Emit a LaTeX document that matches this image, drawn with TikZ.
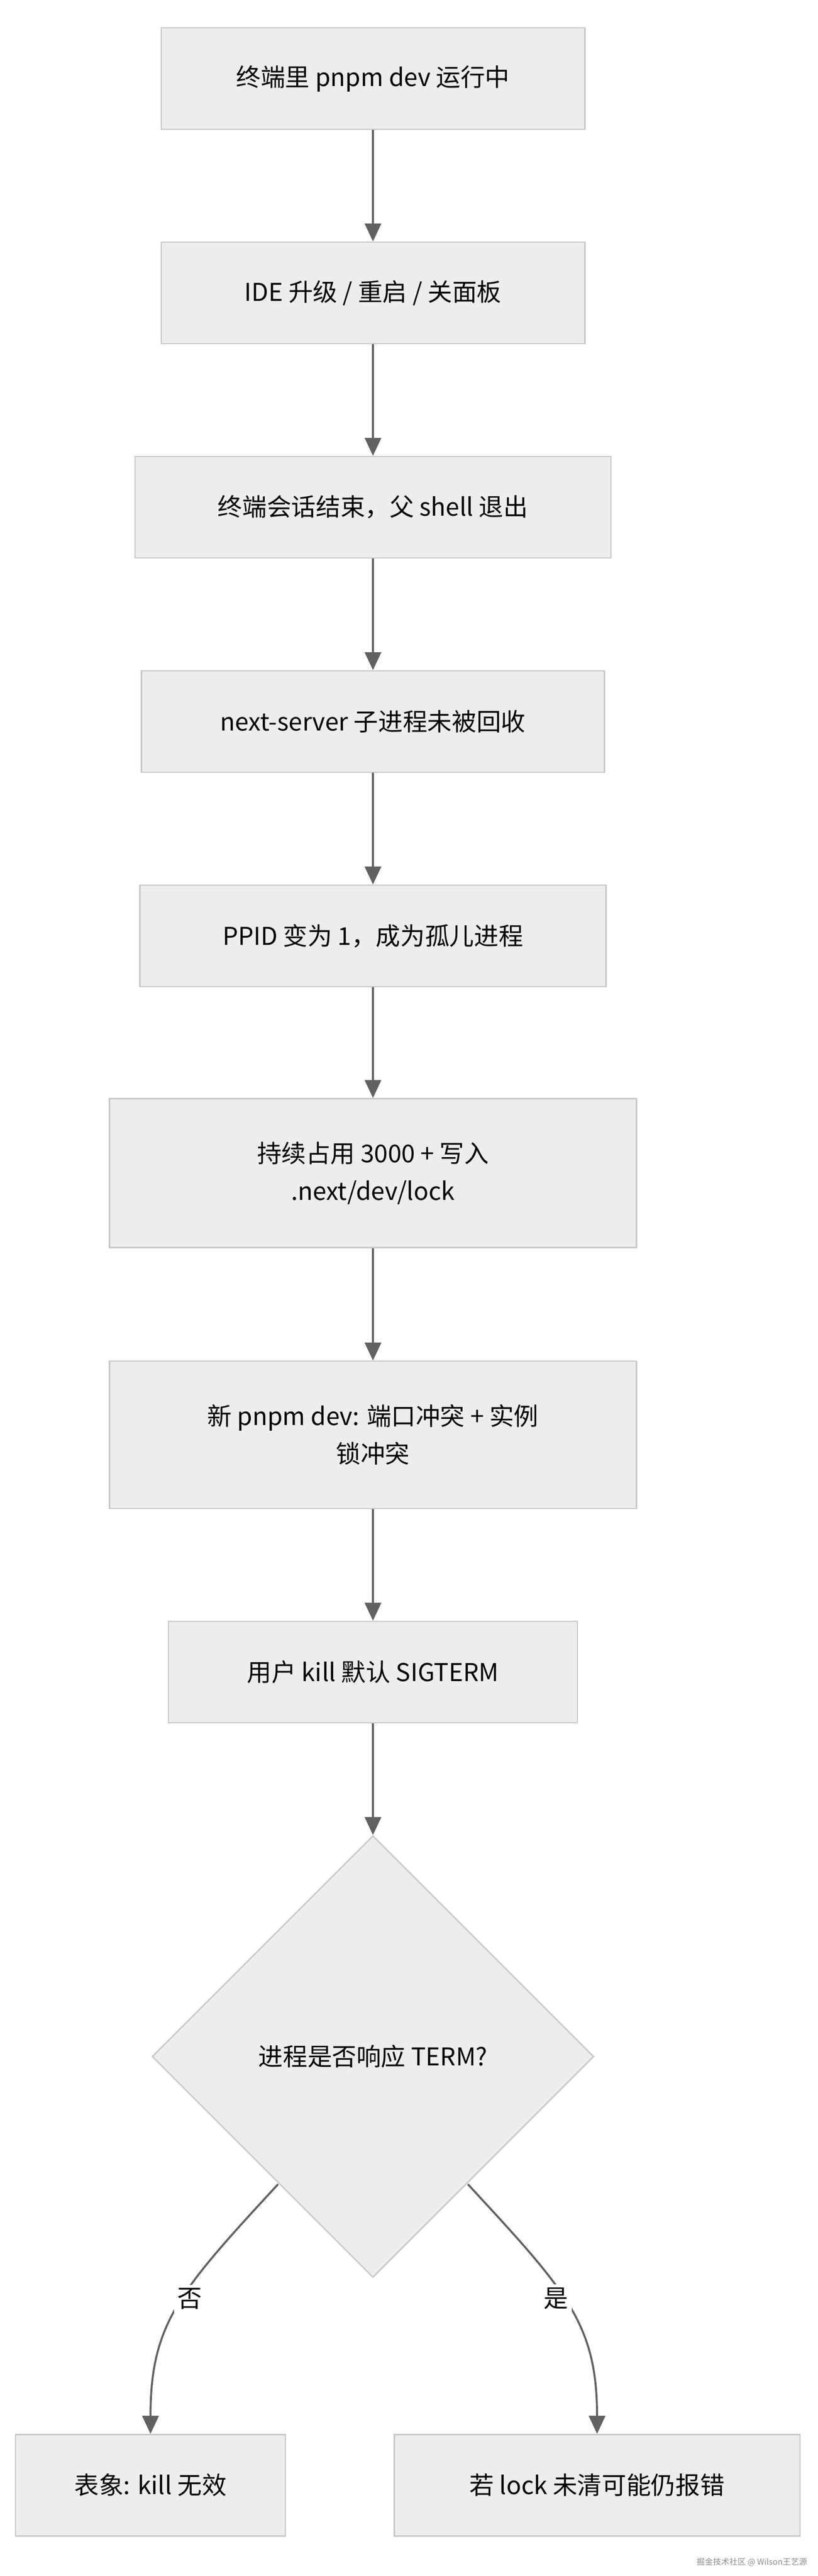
\documentclass[tikz,border=0pt]{standalone}
\usepackage{fontspec}
\setmainfont{Noto Sans CJK SC}
\usetikzlibrary{shapes.geometric,arrows.meta}
\begin{document}
\begin{tikzpicture}[x=1pt,y=-1pt,
  box/.style={draw=black!22,fill=black!7,line width=0.8pt,align=center,font=\fontsize{15}{23}\selectfont,inner sep=0pt},
  arr/.style={draw=black!62,line width=1.2pt,-{Triangle[length=11pt,width=10pt]}},
  lbl/.style={fill=white,font=\fontsize{15}{18}\selectfont,inner sep=2pt}]
\useasboundingbox[fill=white] (0,0) rectangle (500,1574.5);
\node[box,minimum width=259pt,minimum height=62pt] (n1) at (228,48) {终端里 pnpm dev 运行中};
\node[box,minimum width=259pt,minimum height=62pt] (n2) at (228,179) {IDE 升级 / 重启 / 关面板};
\node[box,minimum width=291pt,minimum height=62pt] (n3) at (228,310) {终端会话结束，父 shell 退出};
\node[box,minimum width=283pt,minimum height=62pt] (n4) at (228,441) {next-server 子进程未被回收};
\node[box,minimum width=285pt,minimum height=62pt] (n5) at (228,572) {PPID 变为 1，成为孤儿进程};
\node[box,minimum width=322pt,minimum height=91pt] (n6) at (228,717) {持续占用 3000 + 写入\\.next/dev/lock};
\node[box,minimum width=322pt,minimum height=90pt] (n7) at (228,877) {新 pnpm dev: 端口冲突 + 实例\\锁冲突};
\node[box,minimum width=250pt,minimum height=62pt] (n8) at (228,1022) {用户 kill 默认 SIGTERM};
\node[box,diamond,minimum width=270pt,minimum height=270pt,aspect=1] (d) at (228,1257) {进程是否响应 TERM?};
\node[box,minimum width=165pt,minimum height=62pt] (l) at (92,1519) {表象: kill 无效};
\node[box,minimum width=248pt,minimum height=62pt] (r) at (365,1519) {若 lock 未清可能仍报错};
\draw[arr] (n1) -- (n2);
\draw[arr] (n2) -- (n3);
\draw[arr] (n3) -- (n4);
\draw[arr] (n4) -- (n5);
\draw[arr] (n5) -- (n6);
\draw[arr] (n6) -- (n7);
\draw[arr] (n7) -- (n8);
\draw[arr] (n8) -- (d);
\coordinate (dl) at (170,1335);
\coordinate (dr) at (286,1335);
\draw[arr] (dl) .. controls (110,1400) and (92,1420) .. (l.north);
\draw[arr] (dr) .. controls (346,1400) and (365,1420) .. (r.north);
\node[lbl] (yn) at (116,1405) {否};
\node[lbl] (ys) at (340,1405) {是};
\node[font=\fontsize{5}{6}\selectfont,text=black!45,anchor=south east] (wm) at (497,1572) {掘金技术社区 @ Wilson王艺源};
\end{tikzpicture}
\end{document}
